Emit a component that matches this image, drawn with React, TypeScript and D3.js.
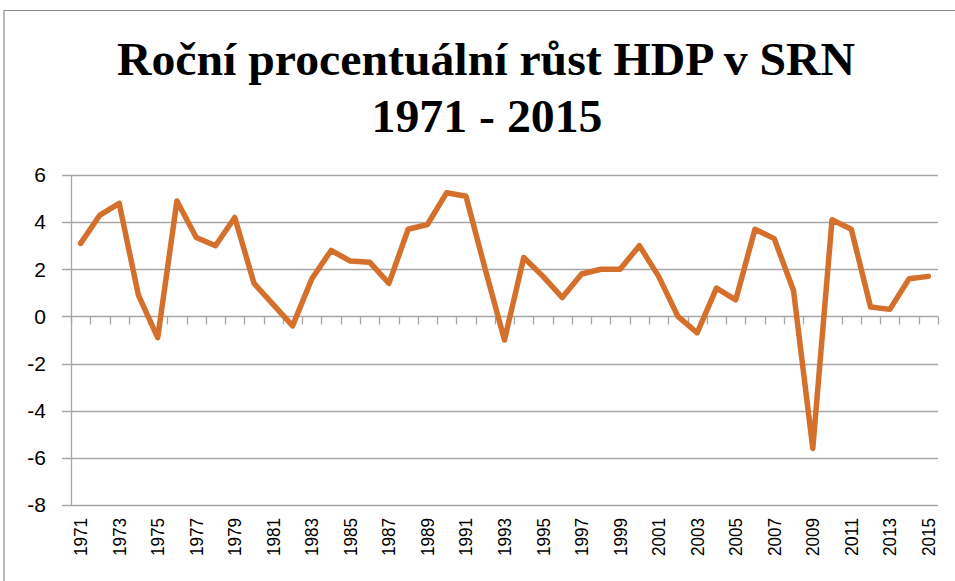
import { useEffect, useRef } from "react";
import * as d3 from "d3";

// ==== DATA ====
const YEARS: number[] = d3.range(1971, 2016);

const GROWTH: number[] = [
  3.1, 4.3, 4.8, 0.9, -0.9, 4.9, 3.35, 3.0, 4.2, 1.4,
  0.5, -0.4, 1.6, 2.8, 2.35, 2.3, 1.4, 3.7, 3.9, 5.25,
  5.1, 2.0, -1.0, 2.5, 1.7, 0.8, 1.8, 2.0, 2.0, 3.0,
  1.7, 0.0, -0.7, 1.2, 0.7, 3.7, 3.3, 1.1, -5.6, 4.1,
  3.7, 0.4, 0.3, 1.6, 1.7,
];

const Y_TICKS: number[] = [-8, -6, -4, -2, 0, 2, 4, 6];
const X_LABELS: number[] = YEARS.filter((_, i) => i % 2 === 0);

const TITLE_LINES = ["Roční procentuální růst HDP v SRN", "1971 - 2015"];

// ==== STYLE ====
const W = 955;
const H = 581;
const LINE_COLOR = "#d4702c";
const GRID_COLOR = "#a6a6a6";
const margin = { top: 175, right: 17, bottom: 76, left: 71 };

export default function App() {
  const svgRef = useRef<SVGSVGElement | null>(null);

  useEffect(() => {
    const svg = d3.select(svgRef.current);
    svg.selectAll("*").remove();

    const innerW = W - margin.left - margin.right;
    const innerH = H - margin.top - margin.bottom;

    // outer chart frame (only top and left visible)
    svg.append("line")
      .attr("x1", 4).attr("x2", W).attr("y1", 10.5).attr("y2", 10.5)
      .attr("stroke", "#8c8c8c").attr("stroke-width", 1.2);
    svg.append("line")
      .attr("x1", 4).attr("x2", 4).attr("y1", 10).attr("y2", H)
      .attr("stroke", "#8c8c8c").attr("stroke-width", 1.2);

    // title
    svg.append("text")
      .attr("x", 486).attr("y", 75)
      .attr("text-anchor", "middle")
      .attr("font-family", "'Liberation Serif', 'Times New Roman', serif")
      .attr("font-weight", "bold")
      .attr("font-size", 46)
      .attr("textLength", 738)
      .attr("lengthAdjust", "spacingAndGlyphs")
      .text(TITLE_LINES[0]);
    svg.append("text")
      .attr("x", 487).attr("y", 132)
      .attr("text-anchor", "middle")
      .attr("font-family", "'Liberation Serif', 'Times New Roman', serif")
      .attr("font-weight", "bold")
      .attr("font-size", 46)
      .attr("textLength", 231)
      .attr("lengthAdjust", "spacingAndGlyphs")
      .text(TITLE_LINES[1]);

    const g = svg.append("g")
      .attr("transform", `translate(${margin.left},${margin.top})`);

    const x = d3.scaleBand<number>()
      .domain(YEARS)
      .range([0, innerW])
      .padding(0);

    const y = d3.scaleLinear()
      .domain([-8, 6])
      .range([innerH, 0]);

    // horizontal gridlines (extend left as outside tick marks)
    g.append("g")
      .selectAll("line")
      .data(Y_TICKS)
      .join("line")
      .attr("x1", -9)
      .attr("x2", innerW)
      .attr("y1", (d) => Math.round(y(d)) + 0.5)
      .attr("y2", (d) => Math.round(y(d)) + 0.5)
      .attr("stroke", GRID_COLOR)
      .attr("stroke-width", 1.3);

    // y axis line
    g.append("line")
      .attr("x1", 0.5).attr("x2", 0.5)
      .attr("y1", y(6)).attr("y2", y(-8))
      .attr("stroke", GRID_COLOR)
      .attr("stroke-width", 1.3);

    // y tick labels
    g.append("g")
      .selectAll("text")
      .data(Y_TICKS)
      .join("text")
      .attr("x", -25)
      .attr("y", (d) => y(d))
      .attr("dy", "0.35em")
      .attr("text-anchor", "end")
      .attr("font-family", "'Liberation Sans', Arial, sans-serif")
      .attr("font-size", 21)
      .attr("fill", "#000")
      .text((d) => String(d));

    // category tick marks below the zero line
    const bounds = YEARS.map((yr) => x(yr) as number).concat([innerW]);
    g.append("g")
      .selectAll("line")
      .data(bounds)
      .join("line")
      .attr("x1", (d) => Math.round(d) + 0.5)
      .attr("x2", (d) => Math.round(d) + 0.5)
      .attr("y1", y(0))
      .attr("y2", y(0) + 8)
      .attr("stroke", GRID_COLOR)
      .attr("stroke-width", 1.3);

    // x labels (rotated)
    g.append("g")
      .selectAll("text")
      .data(X_LABELS)
      .join("text")
      .attr("transform", (d) =>
        `translate(${(x(d) as number) + x.bandwidth() / 2},${innerH + 13}) rotate(-90)`)
      .attr("dy", "0.36em")
      .attr("text-anchor", "end")
      .attr("font-family", "'Liberation Sans', Arial, sans-serif")
      .attr("font-size", 18)
      .attr("textLength", 38)
      .attr("lengthAdjust", "spacingAndGlyphs")
      .attr("fill", "#000")
      .text((d) => String(d));

    // the series
    const line = d3.line<number>()
      .x((_, i) => (x(YEARS[i]) as number) + x.bandwidth() / 2)
      .y((d) => y(d));

    g.append("path")
      .datum(GROWTH)
      .attr("d", line)
      .attr("fill", "none")
      .attr("stroke", LINE_COLOR)
      .attr("stroke-width", 5.5)
      .attr("stroke-linejoin", "round")
      .attr("stroke-linecap", "round");
  }, []);

  return (
    <svg
      ref={svgRef}
      width={W}
      height={H}
      style={{ position: "absolute", left: 0, top: 0, background: "#fff" }}
    />
  );
}
